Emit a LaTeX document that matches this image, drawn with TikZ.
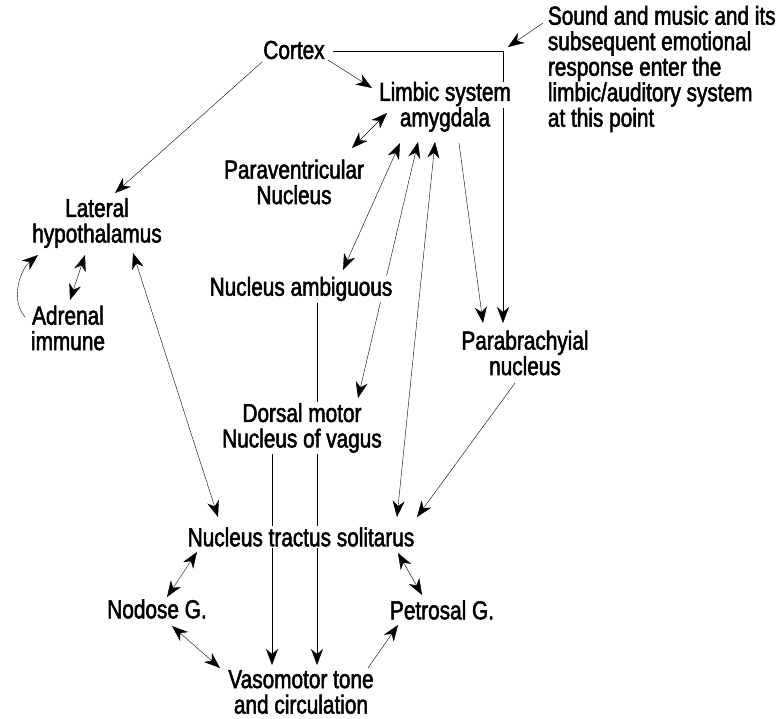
\documentclass[tikz,border=0pt]{standalone}
\usepackage{fontspec}
\setmainfont{Liberation Sans}[FakeStretch=0.8, FakeBold=2]
\usetikzlibrary{arrows.meta,calc,backgrounds}
\newcommand{\lblfont}{\fontsize{26}{25.5}\selectfont\lineskiplimit=-100pt\relax}
\newcommand{\ko}[1]{{\fboxsep=0pt\colorbox{white}{\strut #1}}}
\tikzset{
  >={Stealth[length=16pt,width=12pt,inset=5pt]},
  lbl/.style={fill=white, inner sep=1pt, align=center},
}
\begin{document}
\begin{tikzpicture}[x=1pt, y=-1pt, line width=1.8pt, font=\lblfont]
  \useasboundingbox (0,0) rectangle (782,719);
  \node[lbl] (cortex) at (294,50) {Cortex};
  \node[lbl, anchor=west, align=left] (sound) at (546,69) {Sound and music and its\\subsequent emotional\\response enter the\\limbic/auditory system\\at this point};
  \node[align=center, inner sep=0pt] (limbic) at (445,108) {\ko{Limbic system}\\\ko{amygdala}};
  \node[lbl] (paravent) at (294,182) {Paraventricular\\Nucleus};
  \node[lbl] (lathyp) at (97,223) {Lateral\\hypothalamus};
  \node[lbl] (adrenal) at (68,328) {Adrenal\\immune};
  \node[lbl] (ambig) at (301,289) {Nucleus ambiguous};
  \node[lbl] (parab) at (525,353) {Parabrachyial\\nucleus};
  \node[lbl] (dorsal) at (302,428) {Dorsal motor\\Nucleus of vagus};
  \node[lbl] (nts) at (301,537) {Nucleus tractus solitarus};
  \node[lbl] (nodose) at (157,609) {Nodose G.};
  \node[lbl] (petrosal) at (442,610) {Petrosal G.};
  \node[lbl] (vaso) at (301,692) {Vasomotor tone\\and circulation};
  \coordinate (corner) at (503,51);

  \begin{scope}[on background layer]
    \draw[->] ($(cortex)+(34,10)$) -- ($(limbic)+(-73,-20)$);
    \draw[->] ($(cortex)+(-32,12)$) -- ($(lathyp)+(18,-30)$);
    \draw[->] ($(cortex)+(39,1)$) -- (corner) -- ($(parab)+(-22,-30)$);
    \draw[->] ($(sound.west)+(-3,-46)$) -- ($(corner)+(5,-4)$);
    \draw[<->] ($(limbic)+(-58,5)$) -- ($(paravent)+(58,-34)$);
    \draw[<->] ($(limbic)+(-45,35)$) -- ($(ambig)+(42,-19)$);
    \draw[<->] ($(limbic)+(-27,34)$) -- ($(dorsal)+(56,-30)$);
    \draw[<->] ($(limbic)+(-10,34)$) -- ($(nts)+(96,-20)$);
    \draw[->] ($(limbic)+(14,35)$) -- ($(parab)+(-42,-30)$);
    \draw[->] ($(parab)+(-10,30)$) -- ($(nts)+(116,-20)$);
    \draw[<->] ($(lathyp)+(36,30)$) -- ($(nts)+(-83,-20)$);
    \draw[<->] ($(lathyp)+(-12,32)$) -- ($(adrenal)+(2,-28)$);
    \draw[->] ($(adrenal)+(-43,-11)$) .. controls ($(adrenal)+(-58,-28)$) and ($(lathyp)+(-77,47)$) .. ($(lathyp)+(-59,32)$);
    \draw[->] ($(ambig)+(16,14)$) -- ($(vaso)+(16,-27)$);
    \draw[->] ($(dorsal)+(-30,25)$) -- ($(vaso)+(-29,-27)$);
    \draw[<->] ($(nts)+(-104,15)$) -- ($(nodose)+(10,-12)$);
    \draw[<->] ($(nodose)+(15,17)$) -- ($(vaso)+(-81,-24)$);
    \draw[<->] ($(nts)+(97,16)$) -- ($(petrosal)+(-20,-15)$);
    \draw[->] ($(vaso)+(67,-24)$) -- ($(petrosal)+(-44,15)$);
  \end{scope}
\end{tikzpicture}
\end{document}
